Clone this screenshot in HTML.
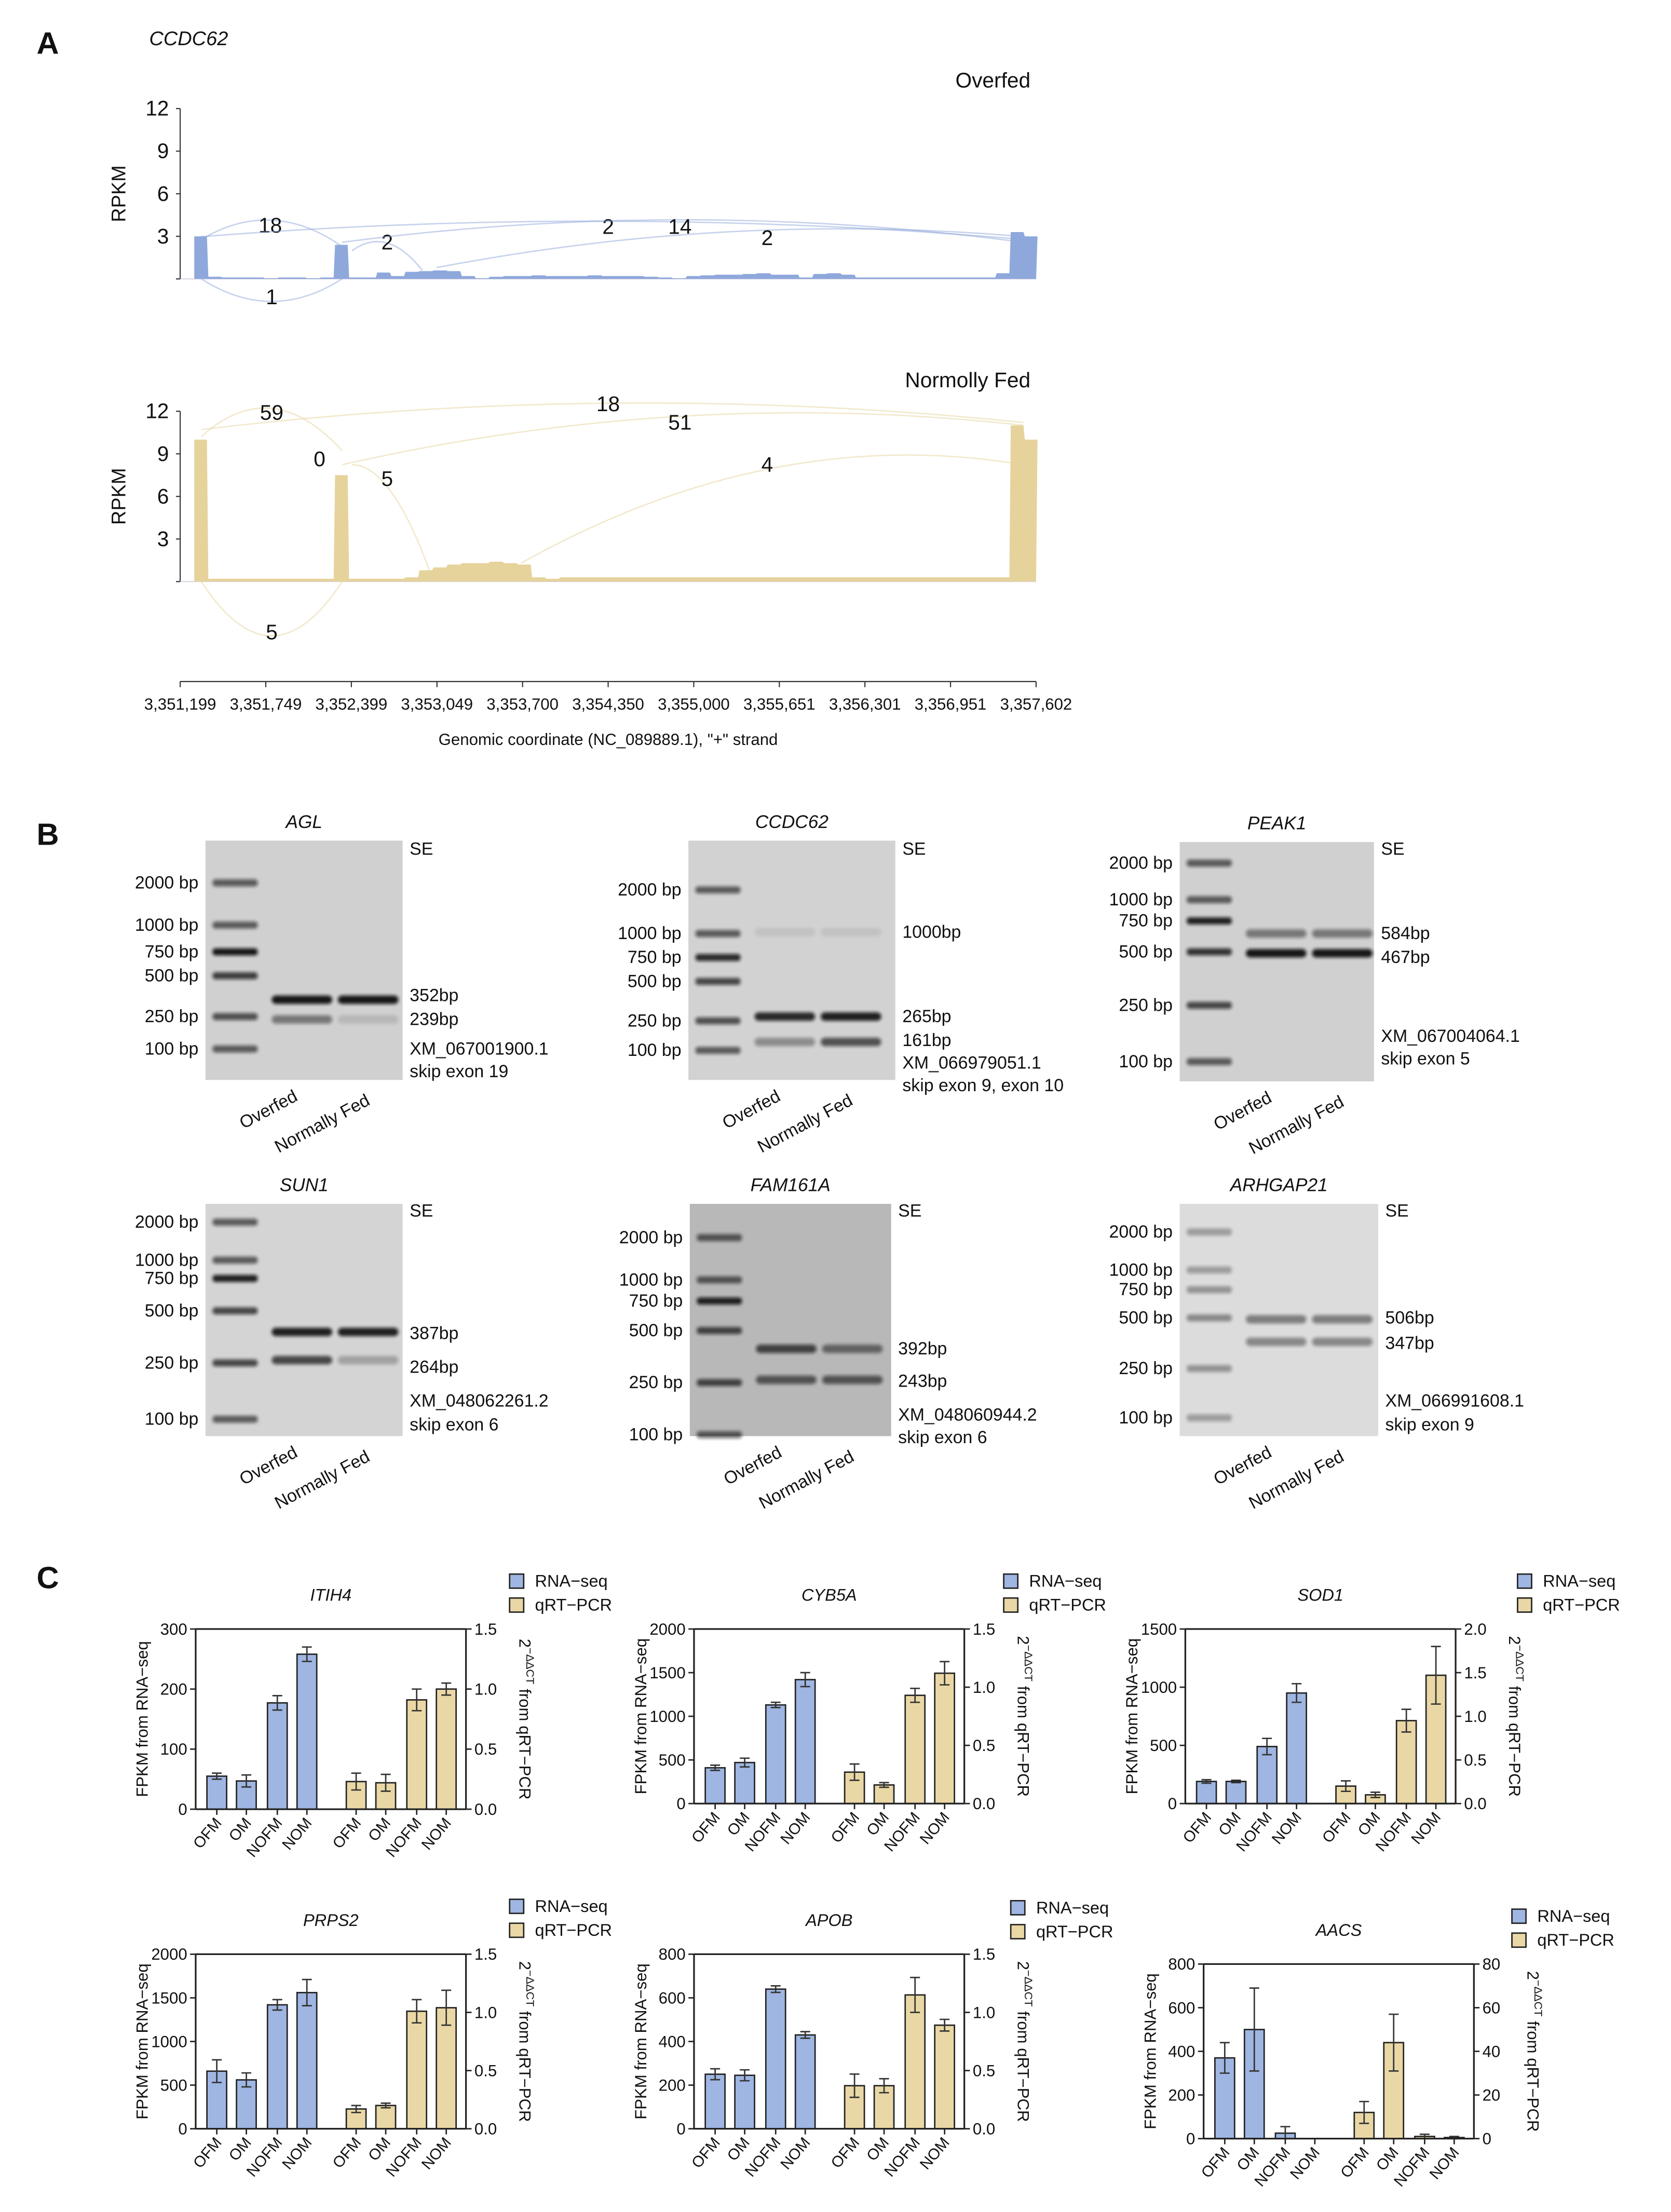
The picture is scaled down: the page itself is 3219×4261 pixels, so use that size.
<!DOCTYPE html>
<html><head><meta charset="utf-8"><style>
html,body{margin:0;padding:0;background:#fff}
svg{display:block}
text{font-family:"Liberation Sans",Arial,sans-serif;fill:#111}
</style></head><body>
<svg id="fig" xmlns="http://www.w3.org/2000/svg" width="3219" height="4261" viewBox="0 0 1187 1571">
<defs><filter id="blur" x="-20%" y="-100%" width="140%" height="300%"><feGaussianBlur stdDeviation="1.2"/></filter></defs>
<text x="26" y="38" font-size="22" font-weight="bold">A</text>
<text x="106" y="32" font-size="14" font-style="italic">CCDC62</text>
<text x="26" y="600" font-size="22" font-weight="bold">B</text>
<text x="26" y="1128" font-size="22" font-weight="bold">C</text>
<g id="A"></g><g id="B"></g><g id="C"></g>
</svg>
<script>
// ===== Panel A data =====
const covOver = [3.0,0.15,0.1,0.1,0.1,0.05,0.1,0.1,0.05,0.1,2.4,0.1,0.1,0.45,0.2,0.5,0.55,0.6,0.55,0.2,0.05,0.15,0.2,0.2,0.25,0.2,0.2,0.2,0.25,0.2,0.2,0.2,0.15,0.1,0.05,0.2,0.25,0.3,0.3,0.35,0.4,0.3,0.3,0.1,0.35,0.4,0.3,0.1,0.1,0.1,0.1,0.1,0.1,0.1,0.1,0.1,0.1,0.4,3.3,3.0];
const covFed = [10.0,0.2,0.2,0.2,0.2,0.2,0.2,0.2,0.2,0.2,7.5,0.2,0.2,0.2,0.2,0.3,0.8,1.0,1.2,1.3,1.3,1.4,1.3,1.2,0.3,0.2,0.3,0.3,0.3,0.3,0.3,0.3,0.3,0.3,0.3,0.3,0.3,0.3,0.3,0.3,0.3,0.3,0.3,0.3,0.3,0.3,0.3,0.3,0.3,0.3,0.3,0.3,0.3,0.3,0.3,0.3,0.3,0.3,11.0,10.0];
const yTicksA = [0,3,6,9,12];
const xTickLabelsA = ["3,351,199","3,351,749","3,352,399","3,353,049","3,353,700","3,354,350","3,355,000","3,355,651","3,356,301","3,356,951","3,357,602"];
const junctionCountsOver = [18,1,2,2,14,2];
const junctionCountsFed = [59,5,0,18,51,5,4];

const NS="http://www.w3.org/2000/svg";
function mk(tag,attrs,parent,txt){const e=document.createElementNS(NS,tag);for(const k in attrs)e.setAttribute(k,attrs[k]);if(txt!==undefined)e.textContent=txt;parent.appendChild(e);return e;}

const gA=document.getElementById('A');
function covPanel(top,bottom,vals,color,label,labelY,counts,arcs,name){
  const g=mk('g',{},gA);
  
  
  const y=v=>bottom-(v/12)*(bottom-top);
  const x0=138,bw=10;
  mk('line',{x1:128,y1:top,x2:128,y2:bottom,stroke:'#333','stroke-width':0.8},g);
  mk('line',{x1:125,y1:bottom,x2:736,y2:bottom,stroke:'#ccd','stroke-width':0.6},g);
  yTicksA.forEach(t=>{mk('line',{x1:125,y1:y(t),x2:128,y2:y(t),stroke:'#333','stroke-width':0.8},g);
    if(t>0){const tt=mk('text',{x:120,y:y(t)+5,'font-size':15,'text-anchor':'end'},g,t);}});
  const yl=mk('text',{x:0,y:0,'font-size':14,'text-anchor':'middle',transform:`translate(89,${(top+bottom)/2}) rotate(-90)`},g,'RPKM');
  
  
  let d=`M${x0},${bottom}`;
  vals.forEach((v,i)=>{d+=` L${x0+i*bw},${y(v)} L${x0+(i+1)*bw-1},${y(v)}`;});
  d+=` L${x0+vals.length*bw-2},${bottom} Z`;
  const p=mk('path',{d:d,fill:color},g);
  
  
  arcs.forEach((a,i)=>{
    mk('path',{d:`M${a[0]},${a[1]} Q${(a[0]+a[2])/2},${a[3]} ${a[2]},${a[4]}`,fill:'none',stroke:color,'stroke-width':1,opacity:0.5},g);
    const t=mk('text',{x:a[5],y:a[6],'font-size':15,'text-anchor':'middle'},g,counts[i]);
    
    
  });
  mk('text',{x:732,y:labelY,'font-size':15,'text-anchor':'end'},g,label);
}
covPanel(77,198,covOver,'#8fa8dc','Overfed',62,junctionCountsOver,[
 [143,170,243,140,175,192,165],[143,198,243,230,198,193,216],[250,178,300,160,192,275,177],
 [143,168,727,145,170,432,166],[243,172,727,140,172,483,166],[310,190,727,150,168,545,174]],'coverage-overfed');
covPanel(292,413,covFed,'#e6d39c','Normolly Fed',275,junctionCountsFed,[
 [143,310,243,265,320,193,298],[143,413,243,490,413,193,454],[243,330,243,330,330,227,331],
 [143,305,727,270,300,432,292],[243,330,727,275,302,483,305],[250,330,305,330,405,275,345],[370,400,727,300,330,545,335]],'coverage-normally-fed');
const xa=mk('g',{},gA);


mk('line',{x1:128,y1:484,x2:736,y2:484,stroke:'#333','stroke-width':0.8},xa);
xTickLabelsA.forEach((l,i)=>{const xx=128+i*60.8;mk('line',{x1:xx,y1:484,x2:xx,y2:488,stroke:'#333','stroke-width':0.8},xa);
 mk('text',{x:xx,y:504,'font-size':11.5,'text-anchor':'middle'},xa,l);});
mk('text',{x:432,y:529,'font-size':11.5,'text-anchor':'middle'},xa,'Genomic coordinate (NC_089889.1), "+" strand');

// ===== Panel B gels =====
const gB=document.getElementById('B');
function gel(o){
  const g=mk('g',{},gB);
  
  
  mk('text',{x:o.x+(o.w/2),y:o.y-9,'font-size':13,'font-style':'italic','text-anchor':'middle'},g,o.name);
  mk('rect',{x:o.x,y:o.y,width:o.w,height:o.h,fill:o.bg},g);
  const lx=o.x+5, lw=32;
  o.ladder.forEach((l,i)=>{
    mk('rect',{x:lx,y:l[1]-2.5,width:lw,height:5,rx:2,fill:'#111',opacity:l[2]||0.7,filter:'url(#blur)'},g);
    mk('text',{x:o.x-5,y:l[1]+4,'font-size':12.5,'text-anchor':'end'},g,l[0]+' bp');
  });
  const s1=o.x+47, s2=o.x+94, sw=43;
  o.bands.forEach(b=>{
    if(b[1]>0)mk('rect',{x:s1,y:b[0]-3,width:sw,height:6,rx:3,fill:'#111',opacity:b[1],filter:'url(#blur)'},g);
    if(b[2]>0)mk('rect',{x:s2,y:b[0]-3,width:sw,height:6,rx:3,fill:'#111',opacity:b[2],filter:'url(#blur)'},g);
  });
  const rx=o.x+o.w+5;
  o.labels.forEach(l=>mk('text',{x:rx,y:l[1]+4,'font-size':12.5},g,l[0]));
  mk('text',{x:0,y:0,'font-size':12.5,transform:`translate(${o.x+27},${o.y+o.h+35}) rotate(-28)`},g,'Overfed');
  mk('text',{x:0,y:0,'font-size':12.5,transform:`translate(${o.x+52},${o.y+o.h+52}) rotate(-28)`},g,'Normally Fed');
}
gel({name:'AGL',x:146,y:597,w:140,h:170,bg:'#d0d0d0',
 ladder:[[2000,627,.6],[1000,657,.6],[750,676,.95],[500,693,.75],[250,722,.65],[100,745,.6]],
 bands:[[710,.95,.95],[724,.45,.12]],
 labels:[['SE',603],['352bp',707],['239bp',724],['XM_067001900.1',745],['skip exon 19',761]]});
gel({name:'CCDC62',x:489,y:597,w:147,h:170,bg:'#d2d2d2',
 ladder:[[2000,632,.6],[1000,663,.6],[750,680,.85],[500,697,.7],[250,725,.65],[100,746,.6]],
 bands:[[662,.08,.08],[722,.85,.9],[740,.35,.65]],
 labels:[['SE',603],['1000bp',662],['265bp',722],['161bp',739],['XM_066979051.1',755],['skip exon 9, exon 10',771]]});
gel({name:'PEAK1',x:838,y:598,w:138,h:170,bg:'#d0d0d0',
 ladder:[[2000,613,.6],[1000,639,.6],[750,654,.9],[500,676,.8],[250,714,.7],[100,754,.6]],
 bands:[[663,.45,.45],[677,.95,.95]],
 labels:[['SE',603],['584bp',663],['467bp',680],['XM_067004064.1',736],['skip exon 5',752]]});
gel({name:'SUN1',x:146,y:855,w:140,h:165,bg:'#d4d4d4',
 ladder:[[2000,868,.6],[1000,895,.6],[750,908,.9],[500,931,.7],[250,968,.7],[100,1008,.6]],
 bands:[[946,.9,.9],[966,.7,.25]],
 labels:[['SE',860],['387bp',947],['264bp',971],['XM_048062261.2',995],['skip exon 6',1012]]});
gel({name:'FAM161A',x:490,y:855,w:143,h:165,bg:'#b8b8b8',
 ladder:[[2000,879,.6],[1000,909,.6],[750,924,.9],[500,945,.7],[250,982,.7],[100,1019,.6]],
 bands:[[958,.7,.5],[980,.6,.6]],
 labels:[['SE',860],['392bp',958],['243bp',981],['XM_048060944.2',1005],['skip exon 6',1021]]});
gel({name:'ARHGAP21',x:838,y:855,w:141,h:165,bg:'#dcdcdc',
 ladder:[[2000,875,.3],[1000,902,.3],[750,916,.35],[500,936,.4],[250,972,.35],[100,1007,.3]],
 bands:[[937,.45,.45],[953,.4,.4]],
 labels:[['SE',860],['506bp',936],['347bp',954],['XM_066991608.1',995],['skip exon 9',1012]]});

// ===== Panel C data =====
const categoriesC = ["OFM","OM","NOFM","NOM"];
const itih4Rna=[55,47,177,258], itih4RnaErr=[5,10,12,12], itih4Q=[0.23,0.22,0.91,1.0], itih4QErr=[0.07,0.07,0.09,0.05];
const cyb5aRna=[410,470,1130,1420], cyb5aRnaErr=[30,50,30,80], cyb5aQ=[0.27,0.16,0.93,1.12], cyb5aQErr=[0.07,0.02,0.06,0.1];
const sod1Rna=[190,190,490,950], sod1RnaErr=[15,10,70,80], sod1Q=[0.2,0.1,0.95,1.47], sod1QErr=[0.06,0.03,0.13,0.33];
const prps2Rna=[660,560,1420,1560], prps2RnaErr=[130,80,60,150], prps2Q=[0.17,0.2,1.01,1.04], prps2QErr=[0.03,0.02,0.1,0.15];
const apobRna=[250,245,640,430], apobRnaErr=[25,25,15,15], apobQ=[0.37,0.37,1.15,0.89], apobQErr=[0.1,0.06,0.15,0.05];
const aacsRna=[370,500,25,0], aacsRnaErr=[70,190,30,0], aacsQ=[12,44,1,0.5], aacsQErr=[5,13,1,0.5];
const itih4LTicks=[0,100,200,300], itih4RTicks=["0.0","0.5","1.0","1.5"];
const cyb5aLTicks=[0,500,1000,1500,2000], cyb5aRTicks=["0.0","0.5","1.0","1.5"];
const sod1LTicks=[0,500,1000,1500], sod1RTicks=["0.0","0.5","1.0","1.5","2.0"];
const prps2LTicks=[0,500,1000,1500,2000], prps2RTicks=["0.0","0.5","1.0","1.5"];
const apobLTicks=[0,200,400,600,800], apobRTicks=["0.0","0.5","1.0","1.5"];
const aacsLTicks=[0,200,400,600,800], aacsRTicks=["0","20","40","60","80"];

const gC=document.getElementById('C');
function chart(o){
  const g=mk('g',{},gC);
  
  
  const L=o.x,R=o.x+192,T=o.y,B=o.y+o.h;
  const lMax=o.lt[o.lt.length-1], rMax=parseFloat(o.rt[o.rt.length-1]);
  const yl=v=>B-v/lMax*(B-T), yr=v=>B-v/rMax*(B-T);
  mk('text',{x:(L+R)/2,y:T-20,'font-size':12,'font-style':'italic','text-anchor':'middle'},g,o.title);
  const offs=[15,36,58,79,114,135,157,178], bw=14;
  function bar(cx,top,errTop,errBot,fill,name){
    const r=mk('rect',{x:cx-bw/2,y:top,width:bw,height:B-top,fill:fill,stroke:'#222','stroke-width':1},g);
    
    
    if(errTop<errBot-0.5){
      mk('line',{x1:cx,y1:errTop,x2:cx,y2:errBot,stroke:'#333','stroke-width':1},g);
      mk('line',{x1:cx-3.5,y1:errTop,x2:cx+3.5,y2:errTop,stroke:'#333','stroke-width':1},g);
      mk('line',{x1:cx-3.5,y1:errBot,x2:cx+3.5,y2:errBot,stroke:'#333','stroke-width':1},g);
    }
  }
  o.rna.forEach((v,i)=>bar(L+offs[i],yl(v),yl(v+o.rnaE[i]),yl(Math.max(0,v-o.rnaE[i])),'#9fb5e2','bar-rnaseq-'+categoriesC[i].toLowerCase()));
  o.q.forEach((v,i)=>bar(L+offs[i+4],yr(v),yr(v+o.qE[i]),yr(Math.max(0,v-o.qE[i])),'#e9d7a5','bar-qrtpcr-'+categoriesC[i].toLowerCase()));
  mk('line',{x1:L,y1:T,x2:L,y2:B,stroke:'#222','stroke-width':1.2},g);
  mk('line',{x1:R,y1:T,x2:R,y2:B,stroke:'#222','stroke-width':1.2},g);
  mk('line',{x1:L,y1:T,x2:R,y2:T,stroke:'#222','stroke-width':1.2},g);
  mk('line',{x1:L,y1:B,x2:R,y2:B,stroke:'#222','stroke-width':1.2},g);
  o.lt.forEach(t=>{mk('line',{x1:L-4,y1:yl(t),x2:L,y2:yl(t),stroke:'#222','stroke-width':1},g);
    mk('text',{x:L-6,y:yl(t)+4,'font-size':11.5,'text-anchor':'end'},g,t);});
  o.rt.forEach(t=>{const v=parseFloat(t);mk('line',{x1:R,y1:yr(v),x2:R+4,y2:yr(v),stroke:'#222','stroke-width':1},g);
    mk('text',{x:R+6,y:yr(v)+4,'font-size':11.5},g,t);});
  offs.forEach((of,i)=>{const cx=L+of;
    mk('line',{x1:cx,y1:B,x2:cx,y2:B+4,stroke:'#222','stroke-width':1},g);
    mk('text',{x:0,y:0,'font-size':11,'text-anchor':'end',transform:`translate(${cx+4},${B+10}) rotate(-50)`},g,categoriesC[i%4]);});
  mk('text',{x:0,y:0,'font-size':11.5,'text-anchor':'middle',transform:`translate(${L-34},${(T+B)/2}) rotate(-90)`},g,'FPKM from RNA−seq');
  const rt=mk('text',{x:0,y:0,'font-size':11.5,'text-anchor':'middle',transform:`translate(${R+38},${(T+B)/2}) rotate(90)`},g);
  mk('tspan',{},rt,'2');
  mk('tspan',{dy:-5,'font-size':8},rt,'−ΔΔCT');
  mk('tspan',{dy:5},rt,' from qRT−PCR');
  const lg=mk('g',{},g);
  
  
  mk('rect',{x:o.lx,y:o.ly-5,width:10,height:10,fill:'#9fb5e2',stroke:'#222'},lg);
  mk('text',{x:o.lx+18,y:o.ly+4,'font-size':12},lg,'RNA−seq');
  mk('rect',{x:o.lx,y:o.ly+12,width:10,height:10,fill:'#e9d7a5',stroke:'#222'},lg);
  mk('text',{x:o.lx+18,y:o.ly+21,'font-size':12},lg,'qRT−PCR');
}
chart({title:'ITIH4',x:139,y:1157,h:128,rna:itih4Rna,rnaE:itih4RnaErr,q:itih4Q,qE:itih4QErr,lt:itih4LTicks,rt:itih4RTicks,lx:362,ly:1123});
chart({title:'CYB5A',x:493,y:1157,h:124,rna:cyb5aRna,rnaE:cyb5aRnaErr,q:cyb5aQ,qE:cyb5aQErr,lt:cyb5aLTicks,rt:cyb5aRTicks,lx:713,ly:1123});
chart({title:'SOD1',x:842,y:1157,h:124,rna:sod1Rna,rnaE:sod1RnaErr,q:sod1Q,qE:sod1QErr,lt:sod1LTicks,rt:sod1RTicks,lx:1078,ly:1123});
chart({title:'PRPS2',x:139,y:1388,h:124,rna:prps2Rna,rnaE:prps2RnaErr,q:prps2Q,qE:prps2QErr,lt:prps2LTicks,rt:prps2RTicks,lx:362,ly:1354});
chart({title:'APOB',x:493,y:1388,h:124,rna:apobRna,rnaE:apobRnaErr,q:apobQ,qE:apobQErr,lt:apobLTicks,rt:apobRTicks,lx:718,ly:1355});
chart({title:'AACS',x:855,y:1395,h:124,rna:aacsRna,rnaE:aacsRnaErr,q:aacsQ,qE:aacsQErr,lt:aacsLTicks,rt:aacsRTicks,lx:1074,ly:1361});
</script>
</body></html>
